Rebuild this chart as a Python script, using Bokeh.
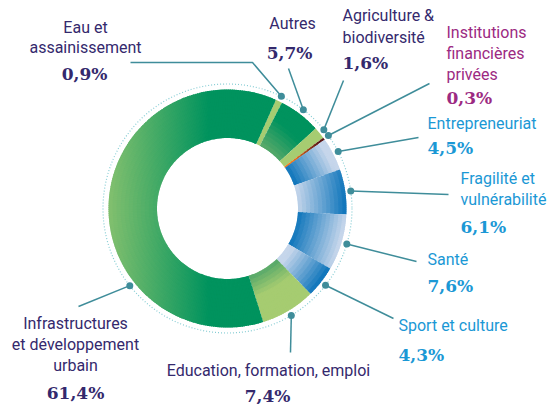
import math
from bokeh.plotting import figure
from bokeh.models import Range1d, ColumnDataSource
from bokeh.embed import file_html
from bokeh.resources import INLINE
from bokeh.core.properties import value

# ---------------- data ----------------
categories = ["Eau et assainissement", "Autres", "Agriculture & biodiversité",
              "Institutions financières privées", "Entrepreneuriat",
              "Fragilité et vulnérabilité", "Santé", "Sport et culture",
              "Education, formation, emploi",
              "Infrastructures et développement urbain"]
shares = [0.9, 5.7, 1.6, 0.3, 4.5, 6.1, 7.6, 4.3, 7.4, 61.4]
value_labels = ["0,9%", "5,7%", "1,6%", "0,3%", "4,5%", "6,1%", "7,6%", "4,3%", "7,4%", "61,4%"]
name_lines = [["Eau et", "assainissement"], ["Autres"], ["Agriculture &", "biodiversité"],
              ["Institutions", "financières", "privées"], ["Entrepreneuriat"],
              ["Fragilité et", "vulnérabilité"], ["Santé"], ["Sport et culture"],
              ["Education, formation, emploi"],
              ["Infrastructures", "et développement", "urbain"]]

# ---------------- styles / layout ----------------
W, H = 560, 404
def Y(ys):
    return H - ys

CX, CY = 227.0, Y(208.0)
R_IN, R_OUT, R_DOT = 70.5, 119.0, 124.5
START = 24.0  # degrees clockwise from 12 o'clock

PURPLE = "#34296d"
MAGENTA = "#9c2a82"
BLUE = "#1b98d5"
DKG, LTG, MIDG, INFL = "#00935e", "#a6cc71", "#58a96a", "#80bf6e"
DKB, LTB = "#1277bc", "#c6d6eb"

# gradient: (color_a, color_b, direction_deg(math), t0, t1)
grads = [
    (LTG, LTG, 0, 0, 1),
    (MIDG, DKG, 45, 0.0, 0.6),
    (LTG, LTG, 0, 0, 1),
    ("#f07a20", "#5a1a1a", 36, 0.2, 0.9),
    (LTB, DKB, 210, 0.1, 1.0),
    (LTB, DKB, 0, 0.0, 1.0),
    (DKB, LTB, -15, 0.0, 1.0),
    (LTB, DKB, -35, 0.1, 1.0),
    (MIDG, LTG, -60, 0.0, 0.45),
    (INFL, DKG, 0, 0.0, 0.6),
]

text_x = [85, 292, 342, 446, 427, 460, 427, 398, 268, 75]
text_align = ["center", "center", "left", "left", "left", "left", "left", "left", "center", "center"]
line_ys = [[27, 47], [23], [15, 37], [32, 53, 74], [123], [178, 199], [259], [325], [370], [323, 344, 365]]
val_x = [84, 289, 342, 446, 427, 460, 427, 398, 267, 75]
val_ys = [73, 52, 62, 97, 147, 226, 285, 354, 395, 392]
colors_txt = [PURPLE, PURPLE, PURPLE, MAGENTA, BLUE, BLUE, BLUE, BLUE, PURPLE, PURPLE]
# leader line end points (screen coords) and optional dot angle override
leader_pts = [[(252, 62), (130, 62)], [(288, 68)], [(343, 80)], [(429, 83)], [(418, 137)],
              [(448, 194)], [(416, 261)], [(393, 318)], [(290, 352)], [(78, 306)]]
dot_angle_override = {9: 231.7}

def h2rgb(h):
    return tuple(int(h[i:i + 2], 16) for i in (1, 3, 5))

def mix(a, b, s):
    ca, cb = h2rgb(a), h2rgb(b)
    return "#%02x%02x%02x" % tuple(int(round(ca[i] + (cb[i] - ca[i]) * s)) for i in range(3))

# ---------------- build sub-wedges (gradient shading of each slice) ----------------
total = sum(shares)
seg = dict(x=[], y=[], ir=[], orr=[], sa=[], ea=[], c=[])
mids = []
theta = START
for k, sh in enumerate(shares):
    span = sh / total * 360.0
    t_start, t_end = theta, theta + span
    mids.append((t_start + t_end) / 2)
    ca, cb, d, t0, t1 = grads[k]
    solid = ca == cb
    n_a = 1 if solid else max(1, int(math.ceil(span / 1.0)))
    n_r = 1 if solid else 12
    pieces = []
    dx, dy = math.cos(math.radians(d)), math.sin(math.radians(d))
    for i in range(n_a):
        a0 = t_start + span * i / n_a
        a1 = t_start + span * (i + 1) / n_a
        am = math.radians((a0 + a1) / 2)
        for j in range(n_r):
            r0 = R_IN + (R_OUT - R_IN) * j / n_r
            r1 = R_IN + (R_OUT - R_IN) * (j + 1) / n_r
            rm = (r0 + r1) / 2
            px, py = rm * math.sin(am), rm * math.cos(am)
            pieces.append((a0, a1, r0, r1, px * dx + py * dy))
    projs = [pc[4] for pc in pieces]
    lo, hi = min(projs), max(projs)
    for a0, a1, r0, r1, pr in pieces:
        t = 0.0 if hi == lo else (pr - lo) / (hi - lo)
        s = min(1.0, max(0.0, (t - t0) / (t1 - t0)))
        b0 = a0
        b1 = min(t_end, a1 + 0.6) if not solid else a1
        seg["x"].append(CX)
        seg["y"].append(CY)
        seg["ir"].append(r0)
        seg["orr"].append(min(R_OUT, r1 + 1.2))
        seg["sa"].append(math.radians(90 - b0))
        seg["ea"].append(math.radians(90 - b1))
        seg["c"].append(mix(ca, cb, s))
    theta = t_end

p = figure(width=W, height=H, x_range=Range1d(0, W), y_range=Range1d(0, H),
           output_backend="svg", toolbar_location=None, min_border=0)
p.axis.visible = False
p.grid.visible = False
p.outline_line_color = None
p.background_fill_color = "white"
p.border_fill_color = "white"

src = ColumnDataSource(seg)
p.annular_wedge(x="x", y="y", inner_radius="ir", outer_radius="orr",
                start_angle="sa", end_angle="ea", direction="clock",
                fill_color="c", line_color=None, source=src)

# dotted ring
p.circle(x=[CX], y=[CY], radius=R_DOT, fill_color=None, line_color="#86cdd4",
         line_width=1.2, line_dash="1 2")

# leader lines and dots
LEAD = "#3f8d9a"
dx_, dy_ = [], []
for k in range(len(shares)):
    ang = math.radians(dot_angle_override.get(k, mids[k]))
    px, py = CX + R_DOT * math.sin(ang), CY + R_DOT * math.cos(ang)
    xs = [px] + [q[0] for q in leader_pts[k]]
    ys = [py] + [Y(q[1]) for q in leader_pts[k]]
    p.line(xs, ys, line_color=LEAD, line_width=1.5)
    dx_.append(px)
    dy_.append(py)
p.scatter(dx_, dy_, size=7, fill_color=LEAD, line_color=None)

# labels
for k in range(len(shares)):
    for ln, ys in zip(name_lines[k], line_ys[k]):
        p.text(x=[text_x[k]], y=[Y(ys)], text=[ln], text_font=value("Roboto"),
               text_font_size="16px", text_color=colors_txt[k],
               text_align=text_align[k], text_baseline="middle")
    p.text(x=[val_x[k]], y=[Y(val_ys[k])], text=[value_labels[k]],
           text_font=value("DejaVu Serif"), text_font_style="bold",
           text_font_size="17px", text_color=colors_txt[k],
           text_align=text_align[k], text_baseline="middle")

open("out.html", "w").write(file_html(p, INLINE))
